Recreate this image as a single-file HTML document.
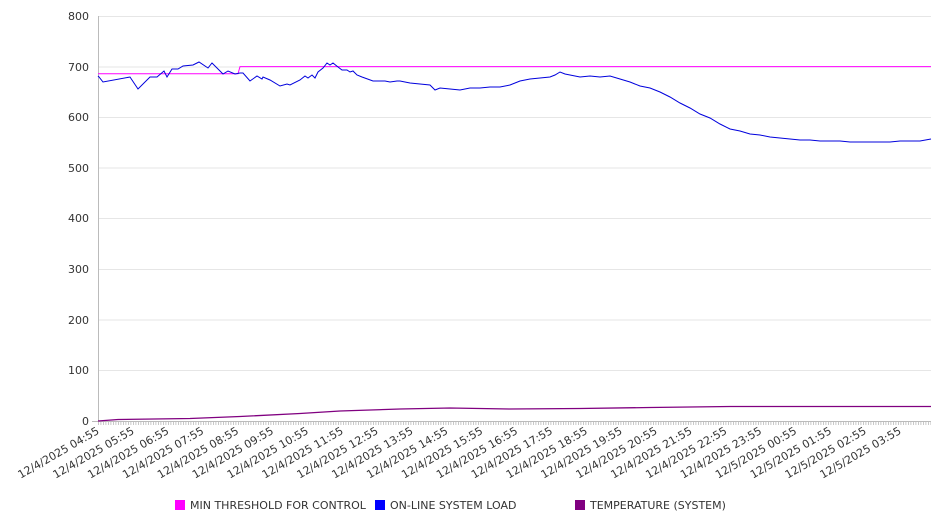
<!DOCTYPE html>
<html><head><meta charset="utf-8"><style>
body{margin:0;background:#fff;}
svg{display:block;font-family:"DejaVu Sans","Liberation Sans",sans-serif;}
</style></head><body>
<svg width="946" height="526" viewBox="0 0 946 526">
<defs><pattern id="tk" x="98" y="0" width="2.5" height="10" patternUnits="userSpaceOnUse"><rect x="0" y="0" width="0.8" height="10" fill="#bbb"/></pattern></defs>
<g stroke="#e6e6e6" stroke-width="1">
<line x1="98" x2="931" y1="16.5" y2="16.5"/><line x1="98" x2="931" y1="67" y2="67"/><line x1="98" x2="931" y1="117.5" y2="117.5"/><line x1="98" x2="931" y1="168" y2="168"/><line x1="98" x2="931" y1="218.5" y2="218.5"/><line x1="98" x2="931" y1="269.5" y2="269.5"/><line x1="98" x2="931" y1="320" y2="320"/><line x1="98" x2="931" y1="370.5" y2="370.5"/>
</g>
<line x1="98.5" x2="98.5" y1="16" y2="421" stroke="#bbb"/>
<line x1="92" x2="98" y1="421.5" y2="421.5" stroke="#bbb"/>
<line x1="98" x2="931" y1="421.5" y2="421.5" stroke="#bbb"/>
<rect x="98" y="422" width="833" height="3" fill="url(#tk)"/>
<g font-size="11" fill="#333" text-anchor="end">
<text x="89" y="20">800</text><text x="89" y="71">700</text><text x="89" y="121">600</text><text x="89" y="172">500</text><text x="89" y="222">400</text><text x="89" y="273">300</text><text x="89" y="324">200</text><text x="89" y="374">100</text><text x="89" y="425">0</text>
</g>
<g font-size="11" fill="#333" text-anchor="end" id="xl"></g>
<polyline fill="none" stroke="#ff00ff" stroke-width="1" points="98,73.7 238,73.7 240,66.6 931,66.6"/>
<polyline fill="none" stroke="#800080" stroke-width="1.3" points="98,421 118,419.5 190,418.5 240,416.5 300,413.5 340,411 400,409 450,408 510,409 580,408.5 650,407.5 730,406.5 931,406.5"/>
<polyline fill="none" stroke="#0000dd" stroke-width="1" points="98,76 99,77 103,82 130,77 138,89 150,77 157,77 164,71 167,77 172,69 178,69 183,66 193,65 199,62 208,68 212,63 216,67 223,74 228,71 235,74 240,73 243,73 250,81 257,76 262,79 263,77 270,80 280,86 287,84 290,85 300,80 305,76 308,78 312,75 315,78 318,72 323,68 327,63 330,65 333,63 338,67 342,70 347,70 350,72 353,71 357,75 362,77 373,81 385,81 390,82 397,81 400,81 410,83 420,84 430,85 435,90 440,88 450,89 460,90 470,88 480,88 490,87 500,87 510,85 520,81 530,79 540,78 550,77 555,75 560,72 565,74 570,75 580,77 590,76 600,77 610,76 620,79 630,82 640,86 650,88 660,92 670,97 680,103 690,108 700,114 710,118 720,124 730,129 740,131 750,134 760,135 770,137 780,138 790,139 800,140 810,140 820,141 830,141 840,141 850,142 860,142 870,142 880,142 890,142 900,141 910,141 920,141 931,139"/>
<g font-size="11" fill="#333">
<rect x="175" y="500" width="10" height="10" fill="#ff00ff"/><text x="190" y="509">MIN THRESHOLD FOR CONTROL</text>
<rect x="375" y="500" width="10" height="10" fill="#0000ff"/><text x="390" y="509">ON-LINE SYSTEM LOAD</text>
<rect x="575" y="500" width="10" height="10" fill="#800080"/><text x="590" y="509">TEMPERATURE (SYSTEM)</text>
</g>
<g font-size="11" fill="#333" text-anchor="end">
<text transform="translate(100,433) rotate(-30)">12/4/2025 04:55</text>
<text transform="translate(134.9,433) rotate(-30)">12/4/2025 05:55</text>
<text transform="translate(169.7,433) rotate(-30)">12/4/2025 06:55</text>
<text transform="translate(204.6,433) rotate(-30)">12/4/2025 07:55</text>
<text transform="translate(239.5,433) rotate(-30)">12/4/2025 08:55</text>
<text transform="translate(274.3,433) rotate(-30)">12/4/2025 09:55</text>
<text transform="translate(309.2,433) rotate(-30)">12/4/2025 10:55</text>
<text transform="translate(344.1,433) rotate(-30)">12/4/2025 11:55</text>
<text transform="translate(379,433) rotate(-30)">12/4/2025 12:55</text>
<text transform="translate(413.8,433) rotate(-30)">12/4/2025 13:55</text>
<text transform="translate(448.7,433) rotate(-30)">12/4/2025 14:55</text>
<text transform="translate(483.6,433) rotate(-30)">12/4/2025 15:55</text>
<text transform="translate(518.4,433) rotate(-30)">12/4/2025 16:55</text>
<text transform="translate(553.3,433) rotate(-30)">12/4/2025 17:55</text>
<text transform="translate(588.2,433) rotate(-30)">12/4/2025 18:55</text>
<text transform="translate(623,433) rotate(-30)">12/4/2025 19:55</text>
<text transform="translate(657.9,433) rotate(-30)">12/4/2025 20:55</text>
<text transform="translate(692.8,433) rotate(-30)">12/4/2025 21:55</text>
<text transform="translate(727.7,433) rotate(-30)">12/4/2025 22:55</text>
<text transform="translate(762.5,433) rotate(-30)">12/4/2025 23:55</text>
<text transform="translate(797.4,433) rotate(-30)">12/5/2025 00:55</text>
<text transform="translate(832.3,433) rotate(-30)">12/5/2025 01:55</text>
<text transform="translate(867.1,433) rotate(-30)">12/5/2025 02:55</text>
<text transform="translate(902,433) rotate(-30)">12/5/2025 03:55</text>
</g>
</svg>
</body></html>
